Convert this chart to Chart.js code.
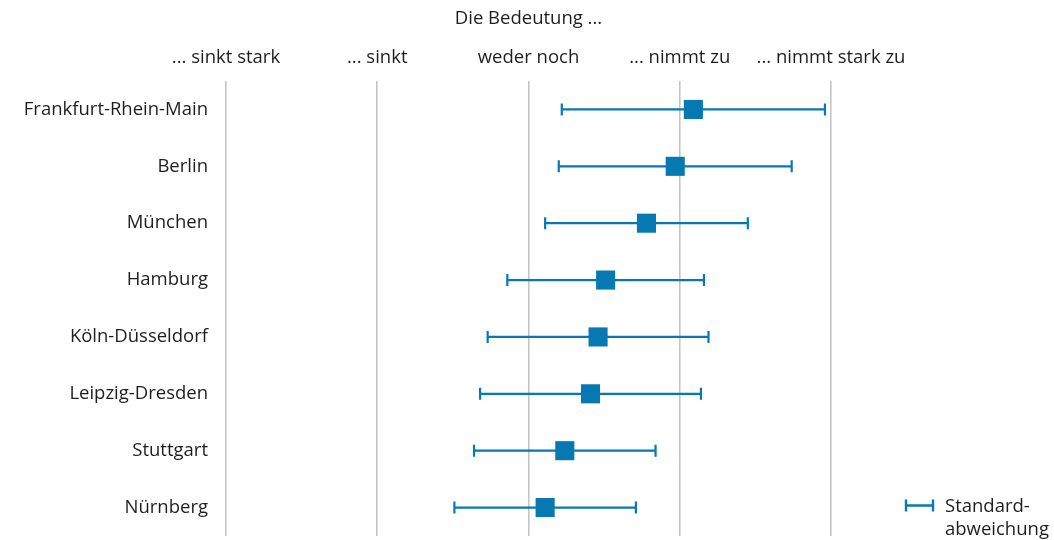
<!DOCTYPE html>
<html lang="de">
<head>
<meta charset="utf-8">
<title>Die Bedeutung ...</title>
<script src="https://cdn.jsdelivr.net/npm/chart.js@4.4.1/dist/chart.umd.min.js"></script>
<style>
  html, body { margin: 0; padding: 0; background: #ffffff; overflow: hidden; }
  canvas { display: block; }
</style>
</head>
<body>
<canvas id="chart" width="1054" height="540"></canvas>
<script>
// Regions, ordered top to bottom
const regions = [
  'Frankfurt-Rhein-Main', 'Berlin', 'München', 'Hamburg',
  'Köln-Düsseldorf', 'Leipzig-Dresden', 'Stuttgart', 'Nürnberg'
];
// Mean rating on the 1–5 scale
const means = [4.09, 3.97, 3.78, 3.51, 3.46, 3.41, 3.24, 3.11];
// Standard deviation of the rating
const stdDevs = [0.87, 0.77, 0.67, 0.65, 0.73, 0.73, 0.60, 0.60];
// Scale labels for the values 1..5
const scaleLabels = ['... sinkt stark', '... sinkt', 'weder noch', '... nimmt zu', '... nimmt stark zu'];
const scaleValues = [1, 2, 3, 4, 5];
const axisTitle = 'Die Bedeutung ...';
const legendLines = ['Standard-', 'abweichung'];

const BLUE = '#0679b3';
const GRID = '#c4c4c4';
const TEXT = '#1e1e1e';
const FONT = 'Open Sans';
const FONT_SIZE = 18.5;

Chart.defaults.font.family = FONT;
Chart.defaults.color = TEXT;

// Horizontal whiskers (mean ± SD) drawn under the squares
const errorBars = {
  id: 'errorBars',
  beforeDatasetsDraw(chart) {
    const { ctx, scales: { x, y } } = chart;
    ctx.save();
    ctx.strokeStyle = BLUE;
    ctx.lineWidth = 2.2;
    regions.forEach((r, i) => {
      const yc = y.getPixelForValue(i);
      const x0 = x.getPixelForValue(means[i] - stdDevs[i]);
      const x1 = x.getPixelForValue(means[i] + stdDevs[i]);
      ctx.beginPath();
      ctx.moveTo(x0, yc); ctx.lineTo(x1, yc);
      ctx.moveTo(x0, yc - 6); ctx.lineTo(x0, yc + 6);
      ctx.moveTo(x1, yc - 6); ctx.lineTo(x1, yc + 6);
      ctx.stroke();
    });
    ctx.restore();
  }
};

// Key for the whisker symbol, bottom right
const sdKey = {
  id: 'sdKey',
  afterDraw(chart) {
    const { ctx, scales: { y } } = chart;
    const yc = y.getPixelForValue(regions.length - 1) - 2;
    const x0 = 906, x1 = 933;
    ctx.save();
    ctx.strokeStyle = BLUE;
    ctx.lineWidth = 2.4;
    ctx.beginPath();
    ctx.moveTo(x0, yc); ctx.lineTo(x1, yc);
    ctx.moveTo(x0, yc - 6); ctx.lineTo(x0, yc + 6);
    ctx.moveTo(x1, yc - 6); ctx.lineTo(x1, yc + 6);
    ctx.stroke();
    ctx.fillStyle = TEXT;
    ctx.font = FONT_SIZE + 'px "' + FONT + '"';
    ctx.textAlign = 'left';
    ctx.textBaseline = 'middle';
    legendLines.forEach((t, k) => ctx.fillText(t, 945, yc + 1 + k * 23));
    ctx.restore();
  }
};

new Chart(document.getElementById('chart'), {
  type: 'scatter',
  data: {
    labels: regions,
    datasets: [{
      data: regions.map((r, i) => ({ x: means[i], y: r })),
      pointStyle: 'rect',
      pointRadius: 13.5,
      pointHoverRadius: 13.5,
      backgroundColor: BLUE,
      borderWidth: 0,
      clip: false
    }]
  },
  options: {
    responsive: false,
    animation: false,
    layout: { autoPadding: false, padding: { left: 0, right: 223, top: 0, bottom: 4 } },
    plugins: { legend: { display: false }, tooltip: { enabled: false } },
    scales: {
      x: {
        type: 'linear',
        position: 'top',
        min: 1,
        max: 5,
        afterBuildTicks(scale) { scale.ticks = scaleValues.map(v => ({ value: v })); },
        afterFit(scale) { scale.height = 81; scale.paddingLeft = 0; scale.paddingRight = 0; },
        border: { display: false },
        grid: { color: GRID, lineWidth: 1.6, drawTicks: false },
        ticks: {
          padding: 12,
          maxRotation: 0,
          minRotation: 0,
          autoSkip: false,
          font: { size: FONT_SIZE },
          color: TEXT,
          callback: (v) => scaleLabels[scaleValues.indexOf(v)] || ''
        },
        title: {
          display: true,
          text: axisTitle,
          font: { size: FONT_SIZE },
          color: TEXT,
          padding: { top: 8, bottom: 0 }
        }
      },
      y: {
        type: 'category',
        labels: regions,
        offset: true,
        afterFit(scale) { scale.width = 226; scale.paddingTop = 0; scale.paddingBottom = 0; },
        border: { display: false },
        grid: { display: false, drawTicks: false },
        ticks: { padding: 18, font: { size: FONT_SIZE }, color: TEXT }
      }
    }
  },
  plugins: [errorBars, sdKey]
});
</script>
</body>
</html>
